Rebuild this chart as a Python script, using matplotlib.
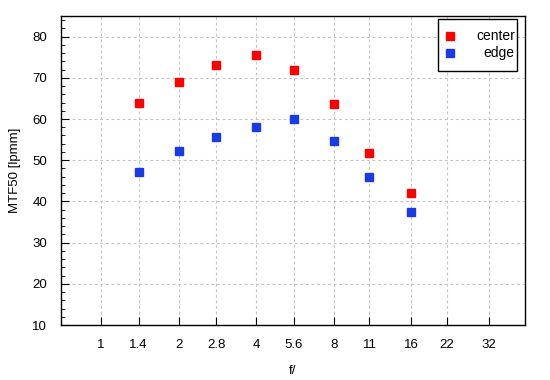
import matplotlib
matplotlib.use("Agg")
import matplotlib.pyplot as plt
from matplotlib.ticker import FixedLocator, MultipleLocator, NullLocator
from matplotlib.patches import Rectangle

# -----------------------------
# Data
# -----------------------------
f_ticks = [1, 1.4, 2, 2.8, 4, 5.6, 8, 11, 16, 22, 32]
f_stops = [1.4, 2, 2.8, 4, 5.6, 8, 11, 16]
center = [63.9, 69.0, 73.1, 75.5, 71.9, 63.6, 51.7, 42.0]
edge = [47.1, 52.2, 55.6, 58.0, 60.0, 54.6, 45.9, 37.4]

red = "#ff0000"
blue = "#1a3ae6"

plt.rcParams["font.family"] = ["Liberation Sans", "DejaVu Sans"]
plt.rcParams["font.size"] = 9.5

fig = plt.figure(figsize=(5.5, 3.8), dpi=100)
ax = fig.add_axes([61 / 550, 1 - 325 / 380, 464 / 550, 309 / 380])

ax.plot(f_stops, center, "s", color=red, markersize=5.2, linestyle="none")
ax.plot(f_stops, edge, "s", color=blue, markersize=5.2, linestyle="none")

ax.set_xscale("log", base=2)
ax.set_xlim(0.70, 44.1)
ax.set_ylim(10, 85)

ax.xaxis.set_major_locator(FixedLocator(f_ticks))
ax.xaxis.set_minor_locator(NullLocator())
ax.set_xticklabels([str(f) for f in f_ticks])
ax.yaxis.set_major_locator(MultipleLocator(10))
ax.yaxis.set_minor_locator(MultipleLocator(2))

ax.tick_params(axis="both", which="both", direction="in", colors="black",
               top=False, right=False)
ax.tick_params(axis="x", which="major", length=6, pad=10)
ax.tick_params(axis="y", which="major", length=6, pad=10)
ax.tick_params(axis="y", which="minor", length=3)

for sp in ax.spines.values():
    sp.set_linewidth(1.0)

ax.grid(True, which="major", color="#c4c4c4", linestyle=(0, (2.5, 2.5)), linewidth=0.8)
ax.set_axisbelow(True)

ax.set_xlabel("f/", labelpad=10)
ax.set_ylabel("MTF50 [lpmm]", labelpad=8)

# -----------------------------
# Legend (markers left, labels right-aligned)
# -----------------------------
ax.add_patch(Rectangle((0.8125, 0.822), 0.1705, 0.168, transform=ax.transAxes,
                       facecolor="white", edgecolor="black", linewidth=1.0, zorder=5))
ax.plot([0.838], [0.935], "s", color=red, markersize=5.2, transform=ax.transAxes, zorder=6)
ax.plot([0.838], [0.880], "s", color=blue, markersize=5.2, transform=ax.transAxes, zorder=6)
ax.text(0.978, 0.935, "center", transform=ax.transAxes, ha="right", va="center",
        fontsize=10, zorder=6)
ax.text(0.978, 0.880, "edge", transform=ax.transAxes, ha="right", va="center",
        fontsize=10, zorder=6)

plt.savefig("out.png", dpi=100)
